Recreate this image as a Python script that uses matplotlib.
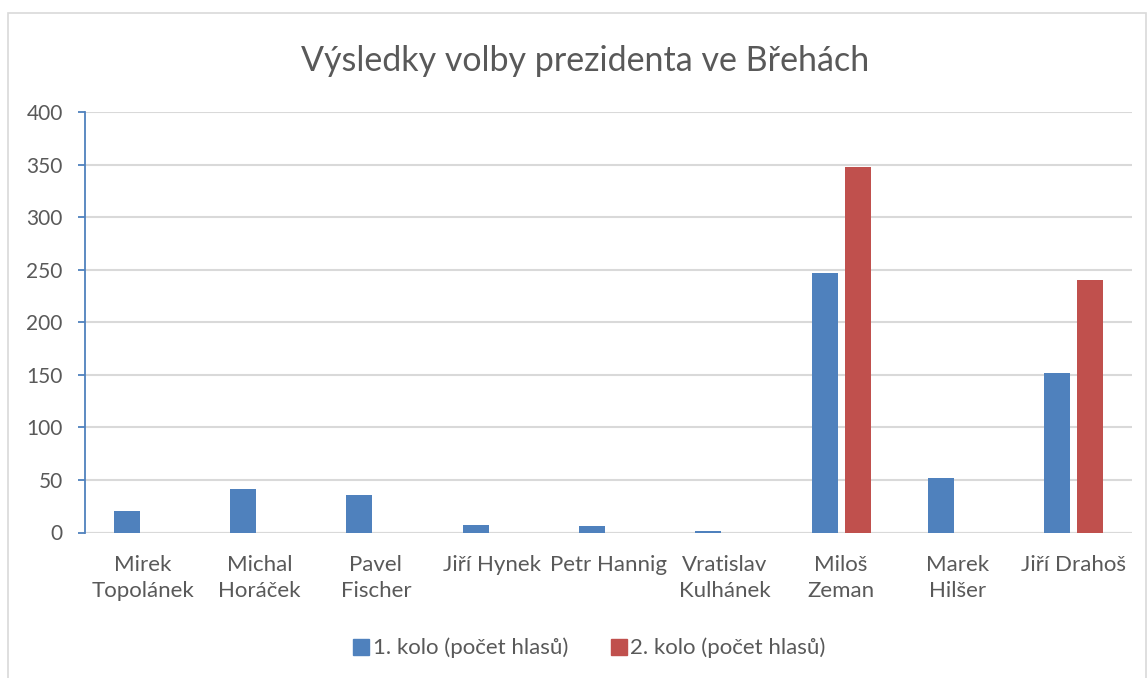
import numpy as np
import matplotlib.pyplot as plt
from matplotlib.lines import Line2D

# data
candidates = ['Mirek\nTopolánek', 'Michal\nHoráček', 'Pavel\nFischer', 'Jiří Hynek',
              'Petr Hannig', 'Vratislav\nKulhánek', 'Miloš\nZeman', 'Marek\nHilšer',
              'Jiří Drahoš']
round1 = [20, 41, 36, 7, 6, 1, 247, 52, 152]
round2 = [0, 0, 0, 0, 0, 0, 348, 0, 240]
series_names = ['1. kolo (počet hlasů)', '2. kolo (počet hlasů)']
yticks = [0, 50, 100, 150, 200, 250, 300, 350, 400]

plt.rcParams['font.family'] = ['Lato', 'DejaVu Sans']

blue = '#4F81BD'
red = '#C0504D'
txt = '#595959'

fig = plt.figure(figsize=(11.48, 6.78), dpi=100)
ax = fig.add_axes([85/1148, 1 - 532.5/678, (1132-85)/1148, (532.5-112)/678])

x = np.arange(len(candidates))
w = 0.2236
off = (w + 0.06) / 2
ax.bar(x - off, round1, width=w, color=blue, label=series_names[0], zorder=3)
ax.bar(x + off, round2, width=w, color=red, label=series_names[1], zorder=3)

ax.set_xlim(-0.5, len(candidates) - 0.5)
ax.set_ylim(0, 400)
ax.set_yticks(yticks)
ax.yaxis.grid(True, color='#D9D9D9', linewidth=1.5, zorder=0)
ax.set_axisbelow(True)

for s in ['top', 'right', 'bottom']:
    ax.spines[s].set_visible(False)
ax.spines['left'].set_color(blue)
ax.spines['left'].set_linewidth(1.3)
ax.spines['left'].set_zorder(4)
ax.axhline(0, color='#D9D9D9', linewidth=1.5, zorder=2)

ax.tick_params(axis='y', colors=blue, length=5, width=1.3, pad=11,
               labelcolor=txt, labelsize=15)
ax.set_xticks(x)
ax.set_xticklabels(candidates, linespacing=1.4)
ax.tick_params(axis='x', length=0, pad=16, labelcolor=txt, labelsize=16)
for lab in ax.get_xticklabels():
    lab.set_verticalalignment('top')

fig.suptitle('Výsledky volby prezidenta ve Břehách', x=585/1148, y=1 - 45/678,
             fontsize=24.5, color=txt, va='top')

handles = [Line2D([], [], marker='s', linestyle='', markersize=11, color=blue),
           Line2D([], [], marker='s', linestyle='', markersize=11, color=red)]
fig.legend(handles, series_names, loc='center', bbox_to_anchor=(589/1148, 1 - 648/678),
           ncol=2, frameon=False, fontsize=16, labelcolor=txt,
           handletextpad=0.1, columnspacing=1.9, handlelength=0.8)

# chart area border
border = plt.Rectangle((8/1148, -0.05), (1146-8)/1148, 1.05 - 13/678,
                       transform=fig.transFigure, fill=False,
                       edgecolor='#D9D9D9', linewidth=1.2)
fig.add_artist(border)

fig.savefig('out.png', dpi=100)
